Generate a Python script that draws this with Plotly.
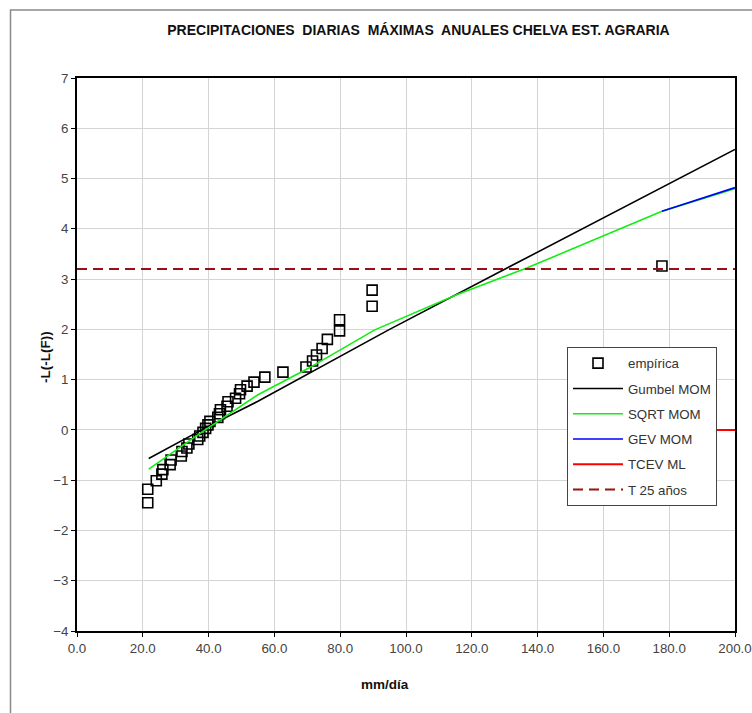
import plotly.graph_objects as go

# ---- data ----
emp_x = [21.5, 21.5, 24.1, 25.8, 26.1, 28.3, 28.6, 31.7, 31.9, 33.4, 34.0, 36.7, 37.3,
         38.3, 39.1, 39.8, 40.4, 42.8, 43.3, 43.6, 45.6, 45.9, 48.2, 49.4, 49.7, 51.7,
         53.8, 57.1, 62.6, 69.6, 71.6, 72.8, 74.5, 76.1, 79.8, 79.8, 89.7, 89.7, 177.8]
emp_y = [-1.45, -1.18, -1.01, -0.88, -0.79, -0.69, -0.60, -0.52, -0.43, -0.36, -0.28,
         -0.19, -0.12, -0.05, 0.03, 0.10, 0.17, 0.25, 0.32, 0.40, 0.47, 0.56, 0.63, 0.72,
         0.80, 0.87, 0.95, 1.05, 1.15, 1.25, 1.37, 1.49, 1.62, 1.80, 1.97, 2.19, 2.46,
         2.78, 3.26]

gumbel_x = [21.8, 39.3, 55.0, 70.2, 95.0, 131.0, 178.0, 200.0]
gumbel_y = [-0.57, 0.05, 0.57, 1.11, 2.00, 3.23, 4.84, 5.58]

sqrt_x = [21.8, 38.3, 55.0, 70.2, 90.5, 101.2, 115.4, 136.7, 177.8, 200.0]
sqrt_y = [-0.78, -0.03, 0.70, 1.22, 1.99, 2.29, 2.69, 3.22, 4.35, 4.80]

gev_x = [177.8, 200.0]
gev_y = [4.35, 4.82]

tcev_x = [160.0, 200.0]
tcev_y = [0.0, 0.0]

t25_x = [0.0, 200.0]
t25_y = [3.199, 3.199]

title_text = "PRECIPITACIONES  DIARIAS  MÁXIMAS  ANUALES CHELVA EST. AGRARIA"
x_title = "mm/día"
y_title = "-L(-L(F))"

FONT = "Arial, 'Liberation Sans', sans-serif"
FS = 13.33

fig = go.Figure()
fig.add_trace(go.Scatter(x=emp_x, y=emp_y, mode="markers", name="empírica",
                         legendgroup="a",
                         marker=dict(symbol="square-open", size=10, color="black",
                                     line=dict(width=1.6, color="black"))))
fig.add_trace(go.Scatter(x=gumbel_x, y=gumbel_y, mode="lines", name="Gumbel MOM",
                         legendgroup="b", line=dict(color="black", width=1.6)))
fig.add_trace(go.Scatter(x=sqrt_x, y=sqrt_y, mode="lines", name="SQRT MOM",
                         legendgroup="c", line=dict(color="#11ee11", width=1.6)))
fig.add_trace(go.Scatter(x=gev_x, y=gev_y, mode="lines", name="GEV MOM",
                         legendgroup="d", line=dict(color="#0000ff", width=1.6)))
fig.add_trace(go.Scatter(x=tcev_x, y=tcev_y, mode="lines", name="TCEV ML",
                         legendgroup="e", line=dict(color="#ff0000", width=2)))
fig.add_trace(go.Scatter(x=t25_x, y=t25_y, mode="lines", name="T 25 años",
                         legendgroup="f", line=dict(color="#9a1010", width=2, dash="10px,6px")))

L, R, T, B = 77, 17, 78, 82
W, H = 752, 713
pw, ph = W - L - R, H - T - B

def px2paper_x(px):
    return (px - L) / pw

def px2paper_y(py):
    return (H - B - py) / ph

fig.update_layout(
    width=W, height=H,
    margin=dict(l=L, r=R, t=T, b=B, autoexpand=False),
    paper_bgcolor="white", plot_bgcolor="white",
    font=dict(family=FONT, size=FS, color="#222"),
    showlegend=True,
    legend=dict(x=px2paper_x(567), y=px2paper_y(347), xanchor="left", yanchor="top",
                bgcolor="white", bordercolor="#444", borderwidth=1,
                font=dict(family=FONT, size=13.3, color="#333"),
                tracegroupgap=5, traceorder="grouped", itemwidth=50),
    title=dict(text="<b>" + title_text.replace("  ", "&nbsp; ") + "</b>",
               x=px2paper_x(418.5), xref="paper", y=1 - 30 / H, yref="container",
               xanchor="center", yanchor="middle",
               font=dict(family=FONT, size=14, color="#111")),
    xaxis=dict(range=[0, 200], dtick=20, tick0=0, tickformat=".1f",
               showgrid=True, gridcolor="#d4d4d4", gridwidth=1,
               showline=True, linecolor="black", linewidth=2, mirror=True,
               ticks="outside", ticklen=4, tickcolor="black",
               tickfont=dict(family=FONT, size=FS, color="#444"), zeroline=False),
    yaxis=dict(range=[-4, 7], dtick=1, tick0=0,
               showgrid=True, gridcolor="#d4d4d4", gridwidth=1,
               showline=True, linecolor="black", linewidth=2, mirror=True,
               ticks="outside", ticklen=4, tickcolor="black",
               tickfont=dict(family=FONT, size=FS, color="#444"), zeroline=False),
    shapes=[dict(type="rect", xref="paper", yref="paper",
                 x0=px2paper_x(10.5), x1=1.2, y0=-0.3, y1=px2paper_y(10),
                 line=dict(color="#8a8a8a", width=1.5), layer="below")],
    annotations=[
        dict(text="<b>" + x_title + "</b>", xref="paper", yref="paper",
             x=px2paper_x(385), y=px2paper_y(684), xanchor="center", yanchor="middle",
             showarrow=False, font=dict(family=FONT, size=13.5, color="#111")),
        dict(text="<b>" + y_title + "</b>", xref="paper", yref="paper",
             x=px2paper_x(45), y=px2paper_y(357), xanchor="center", yanchor="middle",
             textangle=-90, showarrow=False, font=dict(family=FONT, size=13.5, color="#111")),
    ],
)

fig.write_html("out.html")
